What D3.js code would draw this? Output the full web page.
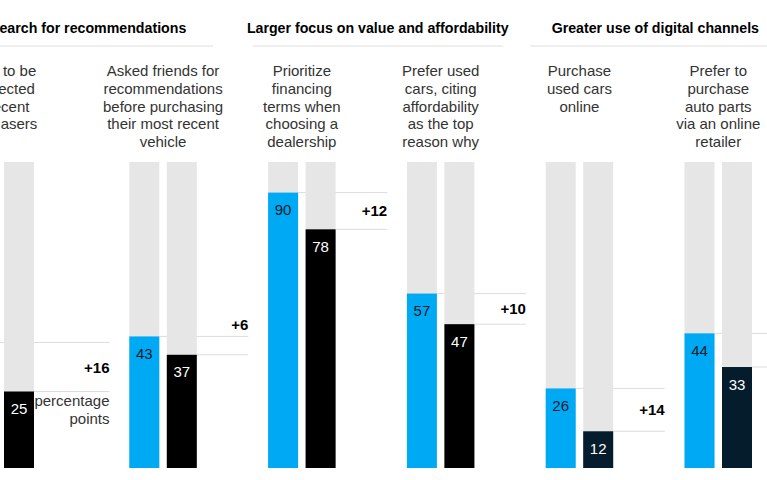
<!DOCTYPE html>
<html>
<head>
<meta charset="utf-8">
<script src="https://cdn.jsdelivr.net/npm/d3@7"></script>
<style>
  body { margin: 0; background: #fff; }
  svg { display: block; font-family: "Liberation Sans", Arial, sans-serif; }
</style>
</head>
<body>
<div id="chart"></div>
<script>
// Data
const sections = [
  "Search for recommendations",
  "Larger focus on value and affordability",
  "Greater use of digital channels"
];
const groupSection = [0, 0, 1, 1, 2, 2];
const groupLabels = [
  ["Want to be", "connected", "to recent", "purchasers"],
  ["Asked friends for", "recommendations", "before purchasing", "their most recent", "vehicle"],
  ["Prioritize", "financing", "terms when", "choosing a", "dealership"],
  ["Prefer used", "cars, citing", "affordability", "as the top", "reason why"],
  ["Purchase", "used cars", "online"],
  ["Prefer to", "purchase", "auto parts", "via an online", "retailer"]
];
const blueValues = [41, 43, 90, 57, 26, 44];
const blackValues = [25, 37, 78, 47, 12, 33];
const unitNote = ["percentage", "points"];

// Layout
const width = 767;
const height = 480;
const barW = 30;
const barGap = 7.5;
const noteShift = 24;   // first group moves left to leave room for the unit note
const lineRun = 119;

const svg = d3.select("#chart")
  .append("svg")
  .attr("width", width)
  .attr("height", height);

const groups = d3.range(blueValues.length);

const x = d3.scaleBand()
  .domain(groups)
  .range([-9.5, -9.5 + 138.8 * groups.length])
  .paddingInner(0);

const y = d3.scaleLinear()
  .domain([0, 100])
  .range([468, 162]);

const barLeft = i => x(i) - (i === 0 ? noteShift : 0);
const groupCenter = i => barLeft(i) + barW + barGap / 2;
const lineEnd = i => x(i) + lineRun;
const darkColor = i => groupSection[i] === 2 ? "#051c2c" : "#000";

// Section titles and rules
sections.forEach((s, k) => {
  const members = groups.filter(i => groupSection[i] === k);
  const cx = d3.mean(members, groupCenter) + 6.5;
  svg.append("text")
    .attr("x", cx)
    .attr("y", 32.7)
    .attr("text-anchor", "middle")
    .style("font-size", "14.2px")
    .style("font-weight", "bold")
    .attr("fill", "#000")
    .text(s);
  svg.append("line")
    .attr("x1", cx - 125)
    .attr("x2", cx + 125)
    .attr("y1", 46)
    .attr("y2", 46)
    .attr("stroke", "#dedede")
    .attr("stroke-width", 1);
});

// Category labels
groups.forEach(i => {
  const t = svg.append("text")
    .attr("text-anchor", "middle")
    .style("font-size", "15px")
    .attr("fill", "#333");
  groupLabels[i].forEach((ln, j) => {
    t.append("tspan")
      .attr("x", groupCenter(i))
      .attr("y", 76 + j * 17.8)
      .text(ln);
  });
});

// Threshold lines (behind bars)
groups.forEach(i => {
  svg.append("line")
    .attr("x1", barLeft(i) + barW)
    .attr("x2", lineEnd(i))
    .attr("y1", y(blueValues[i]))
    .attr("y2", y(blueValues[i]))
    .attr("stroke", "#dcdcdc");
  svg.append("line")
    .attr("x1", barLeft(i) + 2 * barW + barGap)
    .attr("x2", lineEnd(i))
    .attr("y1", y(blackValues[i]))
    .attr("y2", y(blackValues[i]))
    .attr("stroke", "#dcdcdc");
});

// Background bars
groups.forEach(i => {
  [0, 1].forEach(k => {
    svg.append("rect")
      .attr("x", barLeft(i) + k * (barW + barGap))
      .attr("y", y(100))
      .attr("width", barW)
      .attr("height", y(0) - y(100))
      .attr("fill", "#e6e6e6");
  });
});

// Value bars
svg.selectAll(".blue")
  .data(groups)
  .join("rect")
  .attr("class", "blue")
  .attr("x", i => barLeft(i))
  .attr("y", i => y(blueValues[i]))
  .attr("width", barW)
  .attr("height", i => y(0) - y(blueValues[i]))
  .attr("fill", "#00a9f4");

svg.selectAll(".dark")
  .data(groups)
  .join("rect")
  .attr("class", "dark")
  .attr("x", i => barLeft(i) + barW + barGap)
  .attr("y", i => y(blackValues[i]))
  .attr("width", barW)
  .attr("height", i => y(0) - y(blackValues[i]))
  .attr("fill", darkColor);

// Value labels
svg.selectAll(".blueLabel")
  .data(groups)
  .join("text")
  .attr("class", "blueLabel")
  .attr("x", i => barLeft(i) + barW / 2)
  .attr("y", i => y(blueValues[i]) + 22.5)
  .attr("text-anchor", "middle")
  .style("font-size", "15px")
  .attr("fill", "#051c2c")
  .text(i => blueValues[i]);

svg.selectAll(".darkLabel")
  .data(groups)
  .join("text")
  .attr("class", "darkLabel")
  .attr("x", i => barLeft(i) + barW * 1.5 + barGap)
  .attr("y", i => y(blackValues[i]) + 22.5)
  .attr("text-anchor", "middle")
  .style("font-size", "15px")
  .attr("fill", "#fff")
  .text(i => blackValues[i]);

// Differences
svg.selectAll(".delta")
  .data(groups)
  .join("text")
  .attr("class", "delta")
  .attr("x", i => lineEnd(i))
  .attr("y", i => {
    const y1 = y(blueValues[i]), y2 = y(blackValues[i]);
    return (y2 - y1 < 26) ? y1 - 6 : (y1 + y2) / 2 + 5.5;
  })
  .attr("text-anchor", "end")
  .style("font-size", "15px")
  .style("font-weight", "bold")
  .attr("fill", "#000")
  .text(i => "+" + (blueValues[i] - blackValues[i]));

// Unit note under the first difference
const note = svg.append("text")
  .attr("text-anchor", "end")
  .style("font-size", "15px")
  .attr("fill", "#333");
unitNote.forEach((ln, j) => {
  note.append("tspan")
    .attr("x", lineEnd(0))
    .attr("y", y(blackValues[0]) + 14 + j * 18)
    .text(ln);
});
</script>
</body>
</html>
